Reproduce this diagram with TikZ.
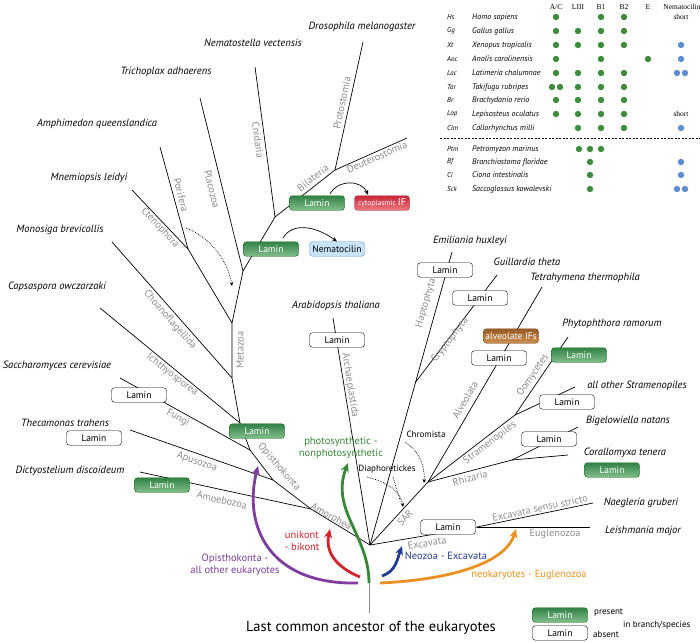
\documentclass[tikz,border=0pt]{standalone}
\usepackage{fontspec}
\setmainfont{PT Sans}
\newfontfamily\hdrfont{Liberation Serif}
\usetikzlibrary{arrows.meta}

\definecolor{dotgreen}{RGB}{62,140,62}
\definecolor{dotblue}{RGB}{95,140,215}
\definecolor{cladegray}{RGB}{140,140,140}
\definecolor{arrpurple}{RGB}{128,60,160}
\definecolor{arrred}{RGB}{212,35,45}
\definecolor{arrgreen}{RGB}{55,135,55}
\definecolor{arrblue}{RGB}{35,60,150}
\definecolor{arrorange}{RGB}{235,145,35}

\tikzset{
  species/.style={inner sep=0pt, font=\fontsize{10.5}{12}\selectfont\itshape},
  clade/.style={inner sep=0pt, text=cladegray, font=\fontsize{10.3}{12}\selectfont},
  note/.style={inner sep=0pt, font=\fontsize{9}{10}\selectfont},
  boxbase/.style={rounded corners=3pt, minimum width=55pt, minimum height=14.5pt, inner sep=0pt, font=\fontsize{9.5}{11}\selectfont},
  laminyes/.style={boxbase, draw=green!40!black, top color={rgb,255:red,50;green,130;blue,70}, bottom color={rgb,255:red,130;green,190;blue,140}, text=white},
  laminno/.style={boxbase, draw=black, fill=white},
  branch/.style={line width=0.7pt},
  bigarrow/.style={line width=2.8pt, -{Stealth[length=9pt,width=8pt]}},
  dotarrow/.style={densely dotted, line width=0.7pt, -{Stealth[length=4pt,width=3.5pt]}},
  arcarrow/.style={line width=0.7pt, -{Stealth[length=5pt,width=4pt]}},
  splittext/.style={inner sep=0pt, align=center, font=\fontsize{10.5}{11.5}\selectfont},
  abbr/.style={anchor=west, inner sep=0pt, font=\fontsize{7}{8}\selectfont\itshape},
  tname/.style={anchor=west, inner sep=0pt, font=\fontsize{8}{9}\selectfont\itshape},
  hdr/.style={inner sep=0pt, font=\fontsize{7.5}{8}\selectfont\hdrfont},
}

\begin{document}
\begin{tikzpicture}[x=1pt,y=-1pt]
\useasboundingbox (0,0) rectangle (700,641);

% inner points of the tree
\coordinate (root) at (370,545);
\coordinate (amor) at (311,509);
\coordinate (apus) at (273,480);
\coordinate (fung) at (250,450);
\coordinate (opis) at (240,423);
\coordinate (choa) at (232,378);
\coordinate (meta) at (232,323);
\coordinate (pori) at (188,249);
\coordinate (plac) at (243,271);
\coordinate (cnid) at (275,217);
\coordinate (bila) at (335,170);
\coordinate (sar) at (428,482);
\coordinate (cryp) at (415,383);
\coordinate (stra) at (515,415);
\coordinate (rhiz) at (512,460);
\coordinate (exca) at (477,527);

% tips
\coordinate (tDic) at (140,472);
\coordinate (tThe) at (130,430);
\coordinate (tSac) at (120,378);
\coordinate (tCap) at (100,308);
\coordinate (tMon) at (112,242);
\coordinate (tMne) at (132,190);
\coordinate (tAmp) at (160,147);
\coordinate (tTri) at (200,98);
\coordinate (tNem) at (255,67);
\coordinate (tDro) at (363,42);
\coordinate (tDeu) at (407,138);
\coordinate (tAra) at (333,318);
\coordinate (tEmi) at (452,252);
\coordinate (tGui) at (497,275);
\coordinate (tTet) at (542,287);
\coordinate (tPhy) at (568,337);
\coordinate (tStr) at (575,387);
\coordinate (tBig) at (578,427);
\coordinate (tCor) at (568,455);
\coordinate (tNae) at (593,503);
\coordinate (tLei) at (590,527);

% branches, left half
\draw[branch] (root) -- (amor) -- (apus) -- (fung) -- (opis) -- (choa) -- (meta);
\draw[branch] (amor) -- (tDic);
\draw[branch] (apus) -- (tThe);
\draw[branch] (fung) -- (tSac);
\draw[branch] (opis) -- (tCap);
\draw[branch] (choa) -- (tMon);
\draw[branch] (meta) -- (pori) -- (tMne);
\draw[branch] (pori) -- (tAmp);
\draw[branch] (meta) -- (plac) -- (tTri);
\draw[branch] (plac) -- (cnid) -- (tNem);
\draw[branch] (cnid) -- (bila) -- (tDro);
\draw[branch] (bila) -- (tDeu);

% branches, right half
\draw[branch] (root) -- (tAra);
\draw[branch] (root) -- (tEmi);
\draw[branch] (cryp) -- (tGui);
\draw[branch] (root) -- (sar) -- (tTet);
\draw[branch] (sar) -- (stra) -- (tPhy);
\draw[branch] (stra) -- (tStr);
\draw[branch] (sar) -- (rhiz) -- (tCor);
\draw[branch] (rhiz) -- (tBig);
\draw[branch] (root) -- (exca) -- (tNae);
\draw[branch] (exca) -- (tLei);

% stem
\coordinate (stemtop) at (369,583);
\coordinate (stembot) at (369,613);
\draw[line width=1pt, cladegray] (stemtop) -- (stembot);
\node[inner sep=0pt, font=\fontsize{14.5}{16}\selectfont] (lca) at (371,628) {Last common ancestor of the eukaryotes};

% lamin boxes
\node[laminyes] (lamMeta) at (271,249) {Lamin};
\node[laminyes] (lamBila) at (317,203) {Lamin};
\node[laminyes] (lamOpis) at (257,431) {Lamin};
\node[laminyes] (lamDic) at (162,485) {Lamin};
\node[laminyes] (lamPhy) at (579,355) {Lamin};
\node[laminyes] (lamCor) at (612,470) {Lamin};
\node[laminno] (lamSac) at (139,395) {Lamin};
\node[laminno] (lamThe) at (94,438) {Lamin};
\node[laminno] (lamAra) at (337,340) {Lamin};
\node[laminno] (lamEmi) at (445,270) {Lamin};
\node[laminno] (lamGui) at (480,298) {Lamin};
\node[laminno] (lamTet) at (499,358) {Lamin};
\node[laminno] (lamStr) at (567,402) {Lamin};
\node[laminno] (lamBig) at (549,439) {Lamin};
\node[laminno] (lamExc) at (448,527) {Lamin};
\node[boxbase, draw={rgb,255:red,90;green,150;blue,220}, fill={rgb,255:red,200;green,226;blue,250}] (nemato) at (337,249) {Nematocilin};
\node[boxbase, draw={rgb,255:red,170;green,30;blue,45}, top color={rgb,255:red,200;green,40;blue,55}, bottom color={rgb,255:red,235;green,120;blue,130}, text=white] (cytoIF) at (382,203) {\fontsize{7.5}{8}\selectfont cytoplasmic \fontsize{10}{10}\selectfont IF};
\node[boxbase, draw={rgb,255:red,120;green,70;blue,25}, top color={rgb,255:red,150;green,90;blue,35}, bottom color={rgb,255:red,205;green,145;blue,85}, text=white] (alvIF) at (511,336) {alveolate IFs};

\draw[arcarrow] (283,238) .. controls (292,222) and (316,226) .. (nemato.north);
\draw[arcarrow] (330,194) .. controls (338,179) and (362,180) .. (368,195);

% species
\node[species] (nDro) at (362,27) {Drosophila melanogaster};
\node[species] (nNem) at (253,43) {Nematostella vectensis};
\node[species] (nTri) at (166,72) {Trichoplax adhaerens};
\node[species] (nAmp) at (97,124) {Amphimedon queenslandica};
\node[species] (nMne) at (89,178) {Mnemiopsis leidyi};
\node[species] (nMon) at (60,230) {Monosiga brevicollis};
\node[species] (nCap) at (57,287) {Capsaspora owczarzaki};
\node[species] (nSac) at (57,366) {Saccharomyces cerevisiae};
\node[species] (nThe) at (65,423) {Thecamonas trahens};
\node[species] (nDic) at (70,471) {Dictyostelium discoideum};
\node[species] (nAra) at (336,306) {Arabidopsis thaliana};
\node[species] (nEmi) at (470,241) {Emiliania huxleyi};
\node[species] (nGui) at (527,262) {Guillardia theta};
\node[species] (nTet) at (585,278) {Tetrahymena thermophila};
\node[species] (nPhy) at (612,324) {Phytophthora ramorum};
\node[species] (nStr) at (637,386) {all other Stramenopiles};
\node[species] (nBig) at (628,421) {Bigelowiella natans};
\node[species] (nCor) at (625,453) {Corallomyxa tenera};
\node[species] (nNae) at (641,503) {Naegleria gruberi};
\node[species] (nLei) at (643,531) {Leishmania major};

% clade names
\node[clade, rotate=-82] (lCni) at (258,140) {Cnidaria};
\node[clade, rotate=78] (lPro) at (342,103) {Protostomia};
\node[clade, rotate=24] (lDeu) at (377,157) {Deuterostomia};
\node[clade, rotate=38] (lBil) at (313,178) {Bilateria};
\node[clade, rotate=-76] (lPla) at (212,189) {Placozoa};
\node[clade, rotate=-75] (lPor) at (181,195) {Porifera};
\node[clade, rotate=-47] (lCte) at (160,228) {Ctenophora};
\node[clade, rotate=90] (lMet) at (240,350) {Metazoa};
\node[clade, rotate=-49] (lCho) at (170,320) {Choanoflagellida};
\node[clade, rotate=-38] (lIch) at (172,375) {Ichthyosporea};
\node[clade, rotate=-29] (lFun) at (178,418) {Fungi};
\node[clade, rotate=-19] (lApu) at (197,462) {Apusozoa};
\node[clade, rotate=-13] (lAmo) at (222,500) {Amoebozoa};
\node[clade, rotate=-49] (lOpi) at (279,467) {Opisthokonta};
\node[clade, rotate=-29] (lAmr) at (331,517) {Amorphea};
\node[clade, rotate=-81] (lArc) at (350,385) {Archaeplastida};
\node[clade, rotate=74] (lHap) at (426,303) {Haptophyta};
\node[clade, rotate=52] (lCry) at (450,340) {Cryptophyta};
\node[clade, rotate=60] (lAlv) at (465,400) {Alveolata};
\node[clade, rotate=56] (lOom) at (533,375) {Oomycetes};
\node[clade, rotate=37] (lStr) at (490,443) {Stramenopiles};
\node[clade, rotate=15] (lRhi) at (470,478) {Rhizaria};
\node[clade, rotate=47] (lSar) at (405,518) {SAR};
\node[clade, rotate=10] (lExc) at (427,543) {Excavata};
\node[clade, rotate=12] (lExs) at (540,508) {Excavata sensu stricto};
\node[clade] (lEug) at (555,534) {Euglenozoa};

% dotted pointers
\node[note] (chrom) at (426,434) {Chromista};
\node[note] (diaph) at (387,469) {Diaphoretickes};
\coordinate (pMeta) at (232,286);
\coordinate (pSar) at (403,507);
\draw[dotarrow] (186,228) .. controls (212,238) and (228,262) .. (pMeta);
\draw[dotarrow] (405,442) .. controls (420,452) and (425,466) .. (424,483);
\draw[dotarrow] (367,477) .. controls (388,482) and (401,492) .. (pSar);
\draw[densely dotted, line width=0.7pt] (393,477) .. controls (396,487) .. (400,500);

% evolutionary splits
\coordinate (sPur) at (358,583);
\coordinate (ePur) at (258,466);
\coordinate (sRed) at (360,577);
\coordinate (eRed) at (330,529);
\coordinate (sGrn) at (369,583);
\coordinate (eGrn) at (348,463);
\coordinate (sBlu) at (382,576);
\coordinate (eBlu) at (402,546);
\coordinate (sOra) at (380,583);
\coordinate (eOra) at (516,529);
\draw[bigarrow, arrpurple] (sPur) .. controls (268,585) and (243,525) .. (ePur);
\draw[bigarrow, arrred] (sRed) .. controls (336,567) and (325,552) .. (eRed);
\draw[bigarrow, arrgreen] (sGrn) .. controls (369,535) and (330,510) .. (eGrn);
\draw[bigarrow, arrblue] (sBlu) .. controls (396,571) and (397,560) .. (eBlu);
\draw[bigarrow, arrorange] (sOra) .. controls (445,580) and (505,565) .. (eOra);
\node[splittext, text=arrpurple] (tPur) at (235,565) {Opisthokonta -\\all other eukaryotes};
\node[splittext, text=arrred] (tRed) at (302,541) {unikont\\- bikont};
\node[splittext, text=arrgreen] (tGrn) at (341,448) {photosynthetic -\\nonphotosynthetic};
\node[splittext, text=arrblue] (tBlu) at (446,556) {Neozoa - Excavata};
\node[splittext, text=arrorange] (tOra) at (529,575) {neokaryotes - Euglenozoa};

% legend
\node[laminyes] (legYes) at (560,615) {Lamin};
\node[laminno] (legNo) at (560,633) {Lamin};
\node[note, anchor=west] (legP) at (594,613) {present};
\node[note, anchor=west] (legA) at (593,634) {absent};
\node[note, anchor=west] (legB) at (623,625) {in branch/species};

% table of species
\node[hdr] (hAC) at (556,7) {A/C};
\node[hdr] (hL3) at (578,7) {LIII};
\node[hdr] (hB1) at (601,7) {B1};
\node[hdr] (hB2) at (624,7) {B2};
\node[hdr] (hE) at (648,7) {E};
\node[hdr] (hNc) at (682,7) {Nematocilin};

\node[abbr] (aHs) at (447,17) {Hs};
\node[abbr] (aGg) at (447,31) {Gg};
\node[abbr] (aXt) at (447,45) {Xt};
\node[abbr] (aAoc) at (447,59) {Aoc};
\node[abbr] (aLac) at (447,73) {Lac};
\node[abbr] (aTar) at (447,87) {Tar};
\node[abbr] (aBr) at (447,100) {Br};
\node[abbr] (aLop) at (447,114) {Lop};
\node[abbr] (aClm) at (447,128) {Clm};
\node[abbr] (aPtm) at (447,149) {Ptm};
\node[abbr] (aBf) at (447,162) {Bf};
\node[abbr] (aCi) at (447,175) {Ci};
\node[abbr] (aSck) at (447,189) {Sck};

\node[tname] (sHs) at (472,17) {Homo sapiens};
\node[tname] (sGg) at (472,31) {Gallus gallus};
\node[tname] (sXt) at (472,45) {Xenopus tropicalis};
\node[tname] (sAoc) at (472,59) {Anolis carolinensis};
\node[tname] (sLac) at (472,73) {Latimeria chalumnae};
\node[tname] (sTar) at (472,87) {Takifugu rubripes};
\node[tname] (sBr) at (472,100) {Brachydanio rerio};
\node[tname] (sLop) at (472,114) {Lepisosteus oculatus};
\node[tname] (sClm) at (472,128) {Callorhynchus milli};
\node[tname] (sPtm) at (472,149) {Petromyzon marinus};
\node[tname] (sBf) at (472,162) {Branchiostoma floridae};
\node[tname] (sCi) at (472,175) {Ciona intestinalis};
\node[tname] (sSck) at (472,189) {Saccoglossus kowalevski};

\coordinate (dashL) at (440,138);
\coordinate (dashR) at (700,138);
\draw[line width=0.6pt, dash pattern=on 2pt off 1.5pt] (dashL) -- (dashR);

% Hs
\fill[dotgreen] (556,17) circle (3.2pt);
\fill[dotgreen] (601,17) circle (3.2pt);
\fill[dotgreen] (624,17) circle (3.2pt);
\node[hdr] (shHs) at (681,17) {short};
% Gg
\fill[dotgreen] (556,31) circle (3.2pt);
\fill[dotgreen] (578,31) circle (3.2pt);
\fill[dotgreen] (601,31) circle (3.2pt);
\fill[dotgreen] (624,31) circle (3.2pt);
% Xt
\fill[dotgreen] (556,45) circle (3.2pt);
\fill[dotgreen] (578,45) circle (3.2pt);
\fill[dotgreen] (601,45) circle (3.2pt);
\fill[dotgreen] (624,45) circle (3.2pt);
\fill[dotblue] (681,45) circle (3.2pt);
% Aoc
\fill[dotgreen] (556,59) circle (3.2pt);
\fill[dotgreen] (601,59) circle (3.2pt);
\fill[dotgreen] (648,59) circle (3.2pt);
\fill[dotblue] (681,59) circle (3.2pt);
% Lac
\fill[dotgreen] (556,73) circle (3.2pt);
\fill[dotgreen] (578,73) circle (3.2pt);
\fill[dotgreen] (601,73) circle (3.2pt);
\fill[dotgreen] (624,73) circle (3.2pt);
\fill[dotblue] (677,73) circle (3.2pt);
\fill[dotblue] (685,73) circle (3.2pt);
% Tar
\fill[dotgreen] (552,87) circle (3.2pt);
\fill[dotgreen] (560,87) circle (3.2pt);
\fill[dotgreen] (578,87) circle (3.2pt);
\fill[dotgreen] (601,87) circle (3.2pt);
\fill[dotgreen] (624,87) circle (3.2pt);
% Br
\fill[dotgreen] (556,100) circle (3.2pt);
\fill[dotgreen] (578,100) circle (3.2pt);
\fill[dotgreen] (601,100) circle (3.2pt);
\fill[dotgreen] (624,100) circle (3.2pt);
% Lop
\fill[dotgreen] (556,114) circle (3.2pt);
\fill[dotgreen] (578,114) circle (3.2pt);
\fill[dotgreen] (601,114) circle (3.2pt);
\fill[dotgreen] (624,114) circle (3.2pt);
\node[hdr] (shLop) at (681,114) {short};
% Clm
\fill[dotgreen] (578,128) circle (3.2pt);
\fill[dotgreen] (601,128) circle (3.2pt);
\fill[dotgreen] (624,128) circle (3.2pt);
\fill[dotblue] (681,128) circle (3.2pt);
% Ptm
\fill[dotgreen] (579,149) circle (3.2pt);
\fill[dotgreen] (590,149) circle (3.2pt);
\fill[dotgreen] (601,149) circle (3.2pt);
% Bf
\fill[dotgreen] (590,162) circle (3.2pt);
\fill[dotblue] (681,162) circle (3.2pt);
% Ci
\fill[dotgreen] (590,175) circle (3.2pt);
\fill[dotblue] (681,175) circle (3.2pt);
% Sck
\fill[dotgreen] (590,189) circle (3.2pt);
\fill[dotblue] (677,189) circle (3.2pt);
\fill[dotblue] (685,189) circle (3.2pt);
\end{tikzpicture}
\end{document}
